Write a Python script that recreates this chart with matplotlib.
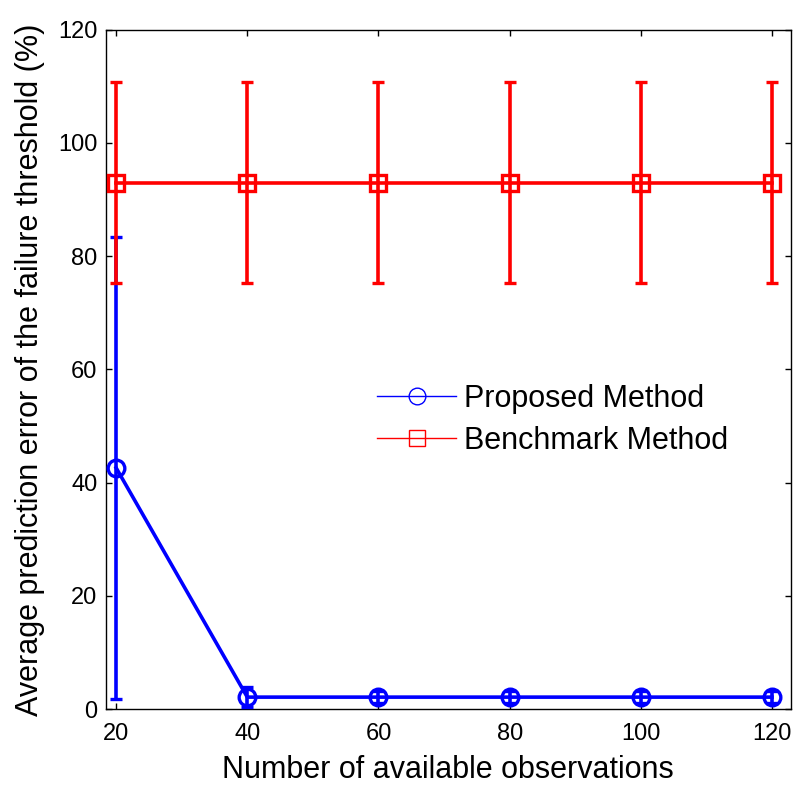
import matplotlib
matplotlib.use("Agg")
import matplotlib.pyplot as plt
from matplotlib.lines import Line2D

plt.rcParams['font.family'] = ['Liberation Sans', 'DejaVu Sans']

# data
observations = [20, 40, 60, 80, 100, 120]
proposed = [42.6, 2.1, 2.1, 2.1, 2.1, 2.1]
proposed_err_low = [40.8, 1.7, 1.0, 1.0, 1.0, 1.0]
proposed_err_high = [40.7, 1.7, 1.0, 1.0, 1.0, 1.0]
benchmark = [93.0, 93.0, 93.0, 93.0, 93.0, 93.0]
benchmark_err = [17.7, 17.7, 17.7, 17.7, 17.7, 17.7]

xticks = [20, 40, 60, 80, 100, 120]
yticks = [0, 20, 40, 60, 80, 100, 120]

fig = plt.figure(figsize=(7.96, 7.85), dpi=100)
ax = fig.add_axes([0.1327, 0.0968, 0.861, 0.8654])

ax.errorbar(observations, proposed, yerr=[proposed_err_low, proposed_err_high],
            color='blue', lw=2.6, elinewidth=2.6, capsize=4.5, capthick=2.6,
            marker='o', ms=12, mfc='none', mec='blue', mew=2.4, zorder=3)
ax.errorbar(observations, benchmark, yerr=benchmark_err,
            color='red', lw=2.6, elinewidth=2.6, capsize=4.5, capthick=2.6,
            marker='s', ms=11, mfc='none', mec='red', mew=2.4, zorder=4)

ax.set_xlim(18.4, 122.9)
ax.set_ylim(0, 120)
ax.set_xticks(xticks)
ax.set_yticks(yticks)
ax.tick_params(direction='in', length=4, width=1, labelsize=17,
               top=True, right=True)
ax.tick_params(axis='x', pad=10)
ax.tick_params(axis='y', pad=6)
for s in ax.spines.values():
    s.set_linewidth(1.0)

ax.set_xlabel('Number of available observations', fontsize=22, labelpad=7)
ax.set_ylabel('Average prediction error of the failure threshold (%)', fontsize=22, labelpad=9)

handles = [
    Line2D([], [], color='blue', lw=1, marker='o', ms=12, mfc='none', mec='blue', mew=1),
    Line2D([], [], color='red', lw=1, marker='s', ms=11, mfc='none', mec='red', mew=1),
]
ax.legend(handles, ['Proposed Method', 'Benchmark Method'], frameon=False,
          fontsize=22, loc='center left', bbox_to_anchor=(0.396, 0.4254),
          borderpad=0, borderaxespad=0, handlelength=2.6, handletextpad=0.26,
          labelspacing=0.4)

fig.savefig('out.png', dpi=100)
